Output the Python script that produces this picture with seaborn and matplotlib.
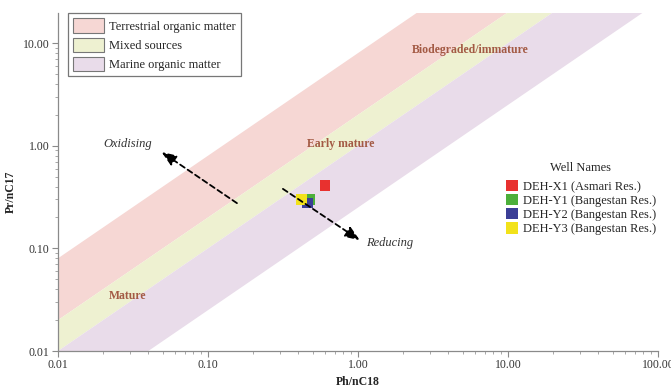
import numpy as np
import pandas as pd
import matplotlib
matplotlib.use("Agg")
import matplotlib.pyplot as plt
import seaborn as sns
from matplotlib.patches import Patch
from matplotlib.ticker import FixedLocator, FixedFormatter, LogLocator, NullFormatter

# Sample data: Ph/nC18 versus Pr/nC17 per well
wells = ["DEH-X1 (Asmari Res.)", "DEH-Y1 (Bangestan Res.)",
         "DEH-Y2 (Bangestan Res.)", "DEH-Y3 (Bangestan Res.)"]
ph_nc18 = [0.60, 0.48, 0.46, 0.42]
pr_nc17 = [0.41, 0.30, 0.275, 0.30]
well_colors = ["#e8312f", "#4caf3a", "#3b3e96", "#f2e21a"]

# Source-facies band boundaries expressed as Pr/nC17 = k * Ph/nC18
band_names = ["Terrestrial organic matter", "Mixed sources", "Marine organic matter"]
band_upper_k = [8.0, 2.0, 1.0]
band_lower_k = [2.0, 1.0, 0.25]
band_colors = ["#f6d7d4", "#eef1d1", "#e9dcea"]

tick_values = [0.01, 0.1, 1, 10, 100]
x_tick_labels = ["0.01", "0.10", "1.00", "10.00", "100.00"]
y_tick_values = [0.01, 0.1, 1, 10]
y_tick_labels = ["0.01", "0.10", "1.00", "10.00"]

sns.set_style("ticks")
plt.rcParams["font.family"] = ["Liberation Serif", "DejaVu Serif"]

fig = plt.figure(figsize=(6.71, 3.87), dpi=100)
ax = fig.add_axes([0.0864, 0.093, 0.8942, 0.873])

xs = np.logspace(-2, 2, 200)
for k_hi, k_lo, col in zip(band_upper_k, band_lower_k, band_colors):
    ax.fill_between(xs, k_lo * xs, k_hi * xs, color=col, lw=0, zorder=0)

df = pd.DataFrame({"Ph/nC18": ph_nc18, "Pr/nC17": pr_nc17, "Well": wells})
sns.scatterplot(data=df, x="Ph/nC18", y="Pr/nC17", hue="Well",
                palette=dict(zip(wells, well_colors)), marker="s", s=55,
                edgecolor="none", linewidth=0, legend=False, ax=ax, zorder=3)

ax.set_xscale("log")
ax.set_yscale("log")
ax.set_xlim(0.01, 100)
ax.set_ylim(0.01, 19.6)

ax.xaxis.set_major_locator(FixedLocator(tick_values))
ax.xaxis.set_major_formatter(FixedFormatter(x_tick_labels))
ax.yaxis.set_major_locator(FixedLocator(y_tick_values))
ax.yaxis.set_major_formatter(FixedFormatter(y_tick_labels))
for axis in (ax.xaxis, ax.yaxis):
    axis.set_minor_locator(LogLocator(base=10, subs=np.arange(2, 10)))
    axis.set_minor_formatter(NullFormatter())

sns.despine(ax=ax)
for sp in ("left", "bottom"):
    ax.spines[sp].set_color("#8a8a8a")
    ax.spines[sp].set_linewidth(0.9)
ax.tick_params(which="major", length=4, width=0.8, color="#8a8a8a",
               labelsize=8.5, labelcolor="#333333", pad=2)
ax.tick_params(which="minor", length=2.5, width=0.6, color="#9a9a9a")

ax.set_xlabel("Ph/nC18", fontsize=8.5, fontweight="bold", labelpad=3)
ax.set_ylabel("Pr/nC17", fontsize=8.5, fontweight="bold")
ax.yaxis.set_label_coords(-0.068, 0.47)

# Maturity / preservation labels
zone_color = "#a35a44"
ax.text(5.6, 8.5, "Biodegraded/immature", color=zone_color, fontsize=8.5,
        fontweight="bold", ha="center", va="center")
ax.text(0.77, 1.04, "Early mature", color=zone_color, fontsize=8.5,
        fontweight="bold", ha="center", va="center")
ax.text(0.029, 0.034, "Mature", color=zone_color, fontsize=8.5,
        fontweight="bold", ha="center", va="center")

# Redox trend arrows
arrow_kw = dict(arrowstyle="-|>,head_length=0.9,head_width=0.35", color="black",
                lw=1.3, linestyle=(0, (3, 2)), shrinkA=0, shrinkB=0)
ax.annotate("", xy=(0.049, 0.87), xytext=(0.156, 0.276), arrowprops=arrow_kw, zorder=4)
ax.annotate("", xy=(1.03, 0.12), xytext=(0.316, 0.38), arrowprops=arrow_kw, zorder=4)
ax.text(0.029, 1.04, "Oxidising", fontsize=9, style="italic", color="#333333",
        ha="center", va="center")
ax.text(1.63, 0.113, "Reducing", fontsize=9, style="italic", color="#333333",
        ha="center", va="center")

# Source-facies legend
band_handles = [Patch(facecolor=c, edgecolor="#777777", linewidth=0.8) for c in band_colors]
leg1 = ax.legend(band_handles, band_names, loc="upper left",
                 bbox_to_anchor=(0.016, 1.0), borderaxespad=0, frameon=True,
                 fancybox=False, fontsize=9, handlelength=2.5, handleheight=1.4,
                 borderpad=0.4, labelspacing=0.4, handletextpad=0.45)
leg1.get_frame().set_edgecolor("#555555")
leg1.get_frame().set_linewidth(0.9)
ax.add_artist(leg1)

# Well legend
well_handles = [Patch(facecolor=c, edgecolor="none") for c in well_colors]
leg2 = ax.legend(well_handles, wells, title="Well Names", loc="upper left",
                 bbox_to_anchor=(0.746, 0.558), borderaxespad=0, frameon=False,
                 fontsize=9, title_fontsize=9, handlelength=1.0, handleheight=1.0,
                 labelspacing=0.1, handletextpad=0.4, borderpad=0.0)
leg2._legend_box.sep = 4

fig.savefig("out.png", dpi=100)
